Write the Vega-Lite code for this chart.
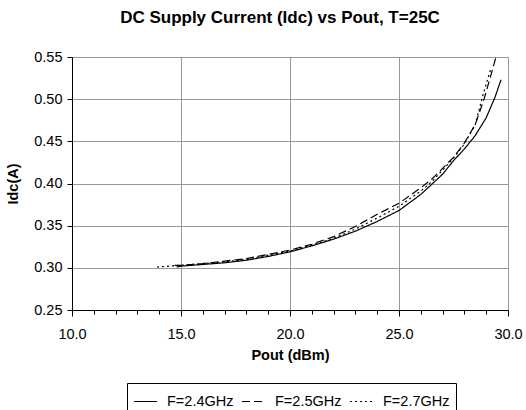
{
  "$schema": "https://vega.github.io/schema/vega-lite/v6.json",
  "autosize": "none",
  "padding": {"left": 72, "top": 57, "right": 18, "bottom": 100},
  "width": 436,
  "height": 253,
  "background": "white",
  "title": {
    "text": "DC Supply Current (Idc) vs Pout, T=25C",
    "font": "Liberation Sans",
    "fontSize": 17,
    "fontWeight": "bold",
    "color": "black",
    "anchor": "middle",
    "dx": -10,
    "offset": 22
  },
  "config": {
    "view": {"stroke": "#999999", "strokeWidth": 1},
    "font": "Liberation Sans"
  },
  "data": {
    "values": [
      {"f": "F=2.4GHz", "pout": 14.8, "idc": 0.301},
      {"f": "F=2.4GHz", "pout": 15.0, "idc": 0.302},
      {"f": "F=2.4GHz", "pout": 16.0, "idc": 0.304},
      {"f": "F=2.4GHz", "pout": 17.0, "idc": 0.306},
      {"f": "F=2.4GHz", "pout": 18.0, "idc": 0.309},
      {"f": "F=2.4GHz", "pout": 19.0, "idc": 0.3135},
      {"f": "F=2.4GHz", "pout": 20.0, "idc": 0.319},
      {"f": "F=2.4GHz", "pout": 21.0, "idc": 0.326},
      {"f": "F=2.4GHz", "pout": 22.0, "idc": 0.334},
      {"f": "F=2.4GHz", "pout": 23.0, "idc": 0.3435},
      {"f": "F=2.4GHz", "pout": 24.0, "idc": 0.355},
      {"f": "F=2.4GHz", "pout": 25.0, "idc": 0.368},
      {"f": "F=2.4GHz", "pout": 26.0, "idc": 0.387},
      {"f": "F=2.4GHz", "pout": 26.5, "idc": 0.399},
      {"f": "F=2.4GHz", "pout": 27.0, "idc": 0.411},
      {"f": "F=2.4GHz", "pout": 27.5, "idc": 0.427},
      {"f": "F=2.4GHz", "pout": 28.0, "idc": 0.441},
      {"f": "F=2.4GHz", "pout": 28.5, "idc": 0.457},
      {"f": "F=2.4GHz", "pout": 29.0, "idc": 0.478},
      {"f": "F=2.4GHz", "pout": 29.4, "idc": 0.502},
      {"f": "F=2.4GHz", "pout": 29.68, "idc": 0.523},
      {"f": "F=2.5GHz", "pout": 14.7, "idc": 0.303},
      {"f": "F=2.5GHz", "pout": 15.0, "idc": 0.303},
      {"f": "F=2.5GHz", "pout": 16.0, "idc": 0.305},
      {"f": "F=2.5GHz", "pout": 17.0, "idc": 0.308},
      {"f": "F=2.5GHz", "pout": 18.0, "idc": 0.311},
      {"f": "F=2.5GHz", "pout": 19.0, "idc": 0.316},
      {"f": "F=2.5GHz", "pout": 20.0, "idc": 0.321},
      {"f": "F=2.5GHz", "pout": 21.0, "idc": 0.328},
      {"f": "F=2.5GHz", "pout": 22.0, "idc": 0.337},
      {"f": "F=2.5GHz", "pout": 23.0, "idc": 0.349},
      {"f": "F=2.5GHz", "pout": 24.0, "idc": 0.3635},
      {"f": "F=2.5GHz", "pout": 25.0, "idc": 0.3765},
      {"f": "F=2.5GHz", "pout": 26.0, "idc": 0.395},
      {"f": "F=2.5GHz", "pout": 26.5, "idc": 0.405},
      {"f": "F=2.5GHz", "pout": 27.0, "idc": 0.418},
      {"f": "F=2.5GHz", "pout": 27.5, "idc": 0.431},
      {"f": "F=2.5GHz", "pout": 28.0, "idc": 0.448},
      {"f": "F=2.5GHz", "pout": 28.5, "idc": 0.47},
      {"f": "F=2.5GHz", "pout": 28.9, "idc": 0.5},
      {"f": "F=2.5GHz", "pout": 29.2, "idc": 0.527},
      {"f": "F=2.5GHz", "pout": 29.45, "idc": 0.55},
      {"f": "F=2.7GHz", "pout": 13.9, "idc": 0.301},
      {"f": "F=2.7GHz", "pout": 15.0, "idc": 0.303},
      {"f": "F=2.7GHz", "pout": 16.0, "idc": 0.305},
      {"f": "F=2.7GHz", "pout": 17.0, "idc": 0.307},
      {"f": "F=2.7GHz", "pout": 18.0, "idc": 0.31},
      {"f": "F=2.7GHz", "pout": 19.0, "idc": 0.315},
      {"f": "F=2.7GHz", "pout": 20.0, "idc": 0.32},
      {"f": "F=2.7GHz", "pout": 21.0, "idc": 0.327},
      {"f": "F=2.7GHz", "pout": 22.0, "idc": 0.335},
      {"f": "F=2.7GHz", "pout": 23.0, "idc": 0.346},
      {"f": "F=2.7GHz", "pout": 24.0, "idc": 0.359},
      {"f": "F=2.7GHz", "pout": 25.0, "idc": 0.373},
      {"f": "F=2.7GHz", "pout": 26.0, "idc": 0.391},
      {"f": "F=2.7GHz", "pout": 26.5, "idc": 0.402},
      {"f": "F=2.7GHz", "pout": 27.0, "idc": 0.416},
      {"f": "F=2.7GHz", "pout": 27.5, "idc": 0.43},
      {"f": "F=2.7GHz", "pout": 28.0, "idc": 0.447},
      {"f": "F=2.7GHz", "pout": 28.5, "idc": 0.47},
      {"f": "F=2.7GHz", "pout": 28.85, "idc": 0.505},
      {"f": "F=2.7GHz", "pout": 29.2, "idc": 0.535}
    ]
  },
  "mark": {"type": "line", "color": "black", "strokeWidth": 1.2, "clip": true},
  "encoding": {
    "x": {
      "field": "pout",
      "type": "quantitative",
      "scale": {"domain": [10, 30], "nice": false, "zero": false},
      "axis": {
        "title": "Pout (dBm)",
        "titleFont": "Liberation Sans",
        "titleFontSize": 14.5,
        "titleFontWeight": "bold",
        "titleColor": "black",
        "titlePadding": 8,
        "values": [10, 11, 12, 13, 14, 15, 16, 17, 18, 19, 20, 21, 22, 23, 24, 25, 26, 27, 28, 29, 30],
        "labelExpr": "datum.value % 5 === 0 ? format(datum.value, '.1f') : ''",
        "labelFont": "Liberation Sans",
        "labelFontSize": 14.5,
        "labelColor": "black",
        "labelPadding": 11,
        "labelFlush": false,
        "labelOverlap": false,
        "domainColor": "black",
        "domainWidth": 1,
        "tickColor": "black",
        "tickSize": {"condition": {"test": "datum.value % 5 === 0", "value": 6}, "value": 4},
        "grid": true,
        "gridColor": {"condition": {"test": "datum.value % 5 === 0", "value": "#999999"}, "value": "rgba(0,0,0,0)"},
        "gridWidth": 1
      }
    },
    "y": {
      "field": "idc",
      "type": "quantitative",
      "scale": {"domain": [0.25, 0.55], "nice": false, "zero": false},
      "axis": {
        "title": "Idc(A)",
        "titleFont": "Liberation Sans",
        "titleFontSize": 14.5,
        "titleFontWeight": "bold",
        "titleColor": "black",
        "titlePadding": 13,
        "values": [0.25, 0.3, 0.35, 0.4, 0.45, 0.5, 0.55],
        "format": ".2f",
        "labelFont": "Liberation Sans",
        "labelFontSize": 14.5,
        "labelColor": "black",
        "labelPadding": 5,
        "labelFlush": false,
        "labelOverlap": false,
        "domainColor": "black",
        "tickColor": "black",
        "tickSize": 5,
        "grid": true,
        "gridColor": "#999999",
        "gridWidth": 1
      }
    },
    "strokeDash": {
      "field": "f",
      "type": "nominal",
      "scale": {
        "domain": ["F=2.4GHz", "F=2.5GHz", "F=2.7GHz"],
        "range": [[1, 0], [8, 4], [2, 3]]
      },
      "legend": {
        "title": null,
        "orient": "none",
        "legendX": 55,
        "legendY": 326,
        "direction": "horizontal",
        "columns": 3,
        "symbolType": "stroke",
        "symbolStrokeColor": "black",
        "symbolStrokeWidth": 1.2,
        "symbolSize": 529,
        "labelFont": "Liberation Sans",
        "labelFontSize": 14.5,
        "labelColor": "black",
        "labelOffset": 9,
        "columnPadding": 5,
        "strokeColor": "black",
        "padding": 6
      }
    }
  }
}
